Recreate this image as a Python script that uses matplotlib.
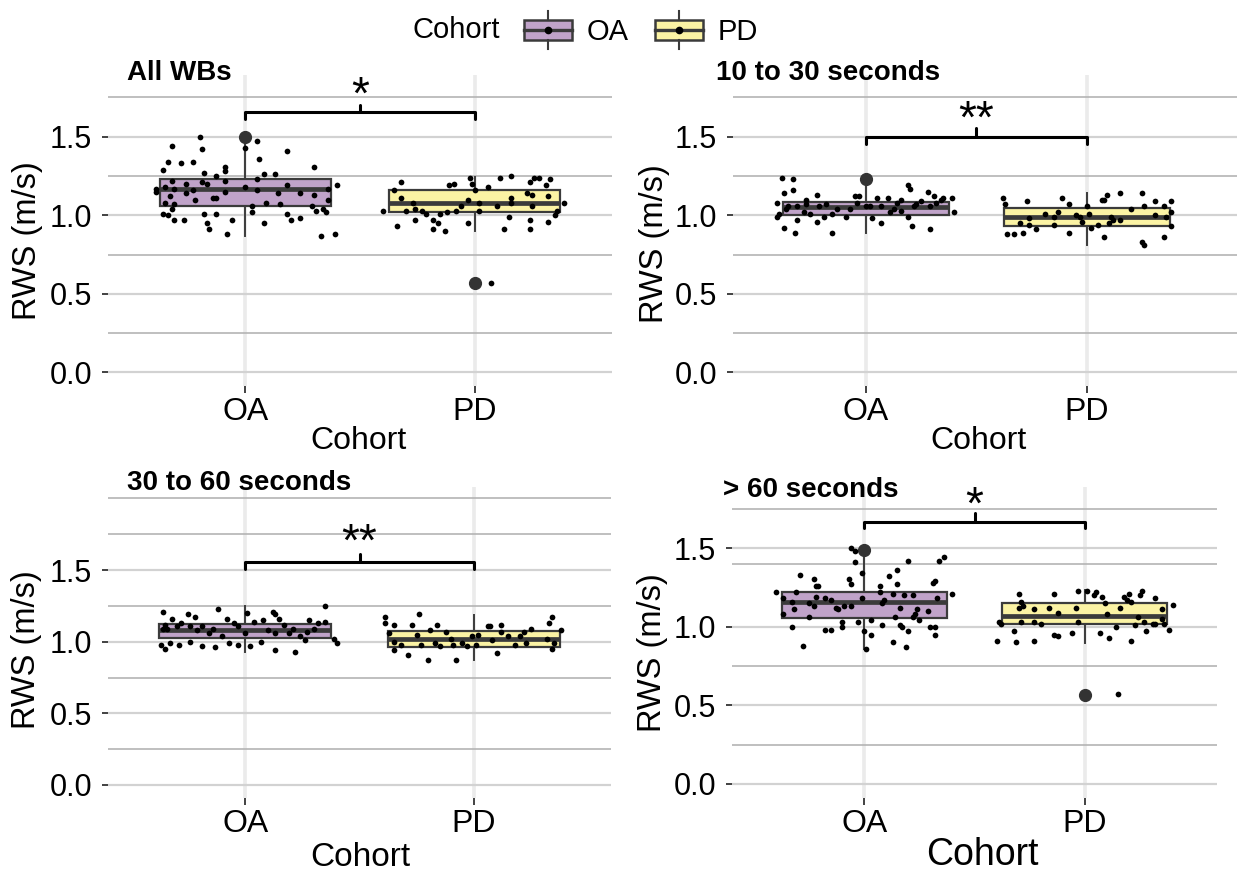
import matplotlib.pyplot as plt
import matplotlib.patches as mpatches
from matplotlib.lines import Line2D
from matplotlib.legend_handler import HandlerBase
from matplotlib.ticker import FormatStrFormatter

plt.rcParams['font.family'] = ['Liberation Sans', 'DejaVu Sans']

cohorts = ['OA', 'PD']
fills = {'OA': '#c0a3c9', 'PD': '#fbf3a4'}
edge = '#3b3b3b'

titles = ['All WBs', '10 to 30 seconds', '30 to 60 seconds', '> 60 seconds']
stars = ['*', '**', '**', '*']

# RWS per walking bout group; *_dx is the horizontal jitter of each point
all_oa = [1.50, 1.47, 1.44, 1.43, 1.42, 1.41, 1.36, 1.34, 1.34, 1.33,
          1.31, 1.31, 1.29, 1.28, 1.27, 1.26, 1.26, 1.25, 1.23, 1.22,
          1.21, 1.22, 1.20, 1.20, 1.19, 1.19, 1.18, 1.18, 1.17, 1.17,
          1.17, 1.16, 1.16, 1.15, 1.15, 1.14, 1.14, 1.14, 1.13, 1.12,
          1.11, 1.11, 1.10, 1.10, 1.08, 1.08, 1.07, 1.07, 1.06, 1.06,
          1.04, 1.04, 1.03, 1.02, 1.01, 1.00, 1.01, 1.01, 1.01, 1.02,
          0.97, 0.98, 0.97, 0.97, 0.97, 0.95, 0.95, 0.91, 0.88, 0.87,
          0.88]
all_oa_dx = [-0.20, 0.05, -0.32, 0.00, -0.19, 0.18, 0.06, -0.34, -0.23, -0.28,
             0.30, -0.09, -0.36, -0.09, -0.18, 0.08, 0.13, -0.13, 0.05, -0.09,
             -0.19, -0.32, -0.26, -0.17, 0.18, 0.40, 0.00, -0.35, -0.31, 0.36,
             -0.39, -0.23, 0.05, -0.09, -0.39, 0.14, -0.26, 0.24, 0.30, -0.33,
             -0.14, -0.13, -0.22, 0.36, 0.09, -0.35, -0.31, 0.15, 0.29, 0.03,
             0.34, -0.32, 0.31, 0.03, -0.36, -0.34, -0.18, -0.13, 0.18, 0.35,
             0.20, 0.24, -0.06, -0.27, -0.31, -0.17, 0.08, -0.16, -0.08, 0.33,
             0.39]
all_pd = [1.21, 1.16, 1.11, 1.03, 1.03, 1.08, 1.04, 1.03, 1.01, 0.93,
          0.97, 0.97, 0.95, 0.91, 0.90, 1.01, 1.02, 1.19, 1.20, 1.03,
          1.06, 0.95, 1.10, 1.24, 1.20, 1.16, 1.08, 1.03, 1.18, 1.06,
          1.24, 0.91, 0.99, 1.11, 1.25, 1.08, 0.57,
          1.21, 1.24, 1.24, 1.23, 1.19, 1.14, 1.13, 1.12, 1.06, 1.08,
          1.00, 1.03, 0.97, 0.96, 0.91]
all_pd_dx = [-0.32, -0.35, -0.32, -0.40, -0.30, -0.27, -0.26, -0.23, -0.21, -0.34,
             -0.26, -0.18, -0.16, -0.18, -0.13, -0.15, -0.12, -0.11, -0.09, -0.08,
             -0.06, -0.03, -0.03, -0.02, -0.01, 0.00, 0.02, 0.02, 0.06, 0.10,
             0.11, 0.13, 0.15, 0.16, 0.16, 0.16, 0.07,
             0.24, 0.26, 0.28, 0.33, 0.31, 0.23, 0.25, 0.32, 0.25, 0.39,
             0.35, 0.36, 0.24, 0.32, 0.24]

s10_oa = [1.24, 1.23, 1.14, 1.16, 1.08, 1.06, 1.06, 1.10, 1.13, 1.07,
          0.99, 1.04, 0.97, 0.92, 0.89, 1.02, 1.01, 0.96, 0.99, 0.89,
          1.04, 0.99, 1.12, 1.08, 1.06, 1.06, 1.11, 0.98, 0.95, 1.11,
          1.02, 1.08, 1.10, 1.19, 1.17, 0.99, 0.93, 1.07, 1.09, 1.15,
          0.91, 1.06, 1.12, 1.08, 1.11, 1.11, 1.02, 1.03, 1.04, 1.07,
          1.06, 1.06, 1.12, 1.04, 1.06, 1.10, 1.01, 1.01]
s10_oa_dx = [-0.38, -0.33, -0.37, -0.33, -0.40, -0.35, -0.31, -0.27, -0.22, -0.18,
             -0.40, -0.36, -0.31, -0.37, -0.32, -0.28, -0.25, -0.22, -0.19, -0.15,
             -0.13, -0.09, -0.05, -0.04, 0.00, 0.02, 0.05, 0.03, 0.07, 0.10,
             0.11, 0.14, 0.16, 0.19, 0.20, 0.19, 0.21, 0.23, 0.25, 0.28,
             0.29, 0.29, 0.31, 0.32, 0.35, 0.39, 0.40, 0.16, -0.07, -0.27,
             -0.21, 0.07, -0.03, 0.13, 0.22, 0.34, -0.39, -0.15]
s10_pd = [1.11, 1.07, 1.09, 0.88, 0.88, 0.89, 0.94, 0.91, 0.95, 0.98,
          1.01, 0.99, 1.02, 1.11, 1.07, 0.89, 1.00, 0.99, 0.96, 1.06,
          1.01, 0.92, 0.94, 1.10, 1.10, 0.86, 0.95, 0.97, 1.14, 0.97,
          1.04, 1.14, 1.06, 0.83, 0.81, 1.00, 1.09, 0.86, 1.06, 0.99,
          0.93, 1.02, 1.09, 0.94, 0.99, 1.13]
s10_pd_dx = [-0.38, -0.37, -0.27, -0.36, -0.33, -0.29, -0.26, -0.23, -0.30, -0.26,
             -0.19, -0.15, -0.13, -0.11, -0.08, -0.08, -0.05, -0.03, -0.02, 0.00,
             0.01, 0.02, 0.05, 0.07, 0.08, 0.08, 0.10, 0.12, 0.15, 0.15,
             0.20, 0.25, 0.26, 0.25, 0.26, 0.31, 0.31, 0.35, 0.35, 0.36,
             0.38, 0.38, 0.38, -0.15, 0.11, 0.09]

s30_oa = [1.21, 1.16, 1.12, 1.09, 1.11, 1.13, 1.19, 1.17, 1.11, 1.08,
          1.11, 1.06, 1.23, 1.16, 1.13, 1.11, 1.04, 0.99, 0.96, 0.97,
          1.00, 0.98, 0.99, 0.95, 0.98, 0.98, 1.06, 1.20, 0.97, 1.14,
          1.00, 1.15, 1.08, 1.21, 1.19, 1.16, 0.94, 1.06, 1.12, 1.06,
          0.93, 1.04, 1.01, 1.15, 1.07, 1.13, 1.14, 1.25, 1.02, 0.99,
          1.09, 1.09, 1.09, 1.09]
s30_oa_dx = [-0.36, -0.32, -0.35, -0.36, -0.30, -0.28, -0.25, -0.22, -0.24, -0.21,
             -0.19, -0.16, -0.12, -0.08, -0.05, -0.03, -0.10, -0.07, -0.13, -0.19,
             -0.24, -0.29, -0.33, -0.35, -0.37, -0.03, 0.00, 0.01, 0.02, 0.04,
             0.07, 0.08, 0.10, 0.12, 0.13, 0.15, 0.13, 0.13, 0.17, 0.19,
             0.22, 0.24, 0.26, 0.28, 0.27, 0.32, 0.35, 0.35, 0.39, 0.40,
             -0.34, -0.14, 0.21, 0.30]
s30_pd = [1.17, 1.13, 1.12, 1.06, 1.00, 0.94, 0.98, 0.91, 1.12, 1.19,
          1.05, 0.98, 0.87, 1.08, 1.12, 0.99, 0.97, 1.07, 0.87, 0.98,
          0.99, 0.97, 1.04, 1.05, 1.11, 1.11, 1.01, 0.92, 1.12, 1.07,
          1.04, 0.98, 1.04, 1.07, 1.09, 0.99, 1.02, 1.13, 1.17, 0.99,
          0.95, 1.08, 0.98, 1.02]
s30_pd_dx = [-0.39, -0.39, -0.35, -0.37, -0.35, -0.35, -0.32, -0.29, -0.27, -0.24,
             -0.25, -0.23, -0.20, -0.19, -0.16, -0.17, -0.15, -0.12, -0.08, -0.09,
             -0.05, -0.03, -0.01, 0.02, 0.06, 0.07, 0.08, 0.10, 0.12, 0.12,
             0.15, 0.18, 0.20, 0.22, 0.25, 0.23, 0.32, 0.33, 0.34, 0.35,
             0.34, 0.38, 0.01, -0.10]

s60_oa = [1.22, 1.00, 1.18, 1.08, 1.16, 1.33, 1.22, 1.11, 0.88, 1.06,
          1.15, 1.30, 1.19, 1.26, 1.13, 1.26, 1.18, 0.98, 0.98, 1.17,
          1.12, 1.11, 1.03, 1.00, 1.13, 1.13, 1.30, 1.27, 1.50, 1.48,
          1.41, 1.03, 1.18, 1.34, 0.97, 0.86, 0.95, 1.04, 1.26, 1.22,
          1.01, 1.15, 1.17, 1.32, 0.90, 1.21, 1.06, 1.27, 1.36, 1.01,
          1.00, 1.20, 0.87, 1.42, 0.97, 1.06, 1.20, 1.08, 1.11, 1.04,
          1.10, 1.00, 1.28, 1.29, 1.00, 0.95, 1.18, 1.42, 1.44, 1.21,
          1.12]
s60_oa_dx = [-0.40, -0.33, -0.37, -0.37, -0.33, -0.29, -0.31, -0.32, -0.28, -0.25,
             -0.25, -0.23, -0.22, -0.22, -0.23, -0.21, -0.18, -0.18, -0.15, -0.15,
             -0.13, -0.12, -0.10, -0.10, -0.09, -0.06, -0.07, -0.06, -0.06, -0.04,
             -0.04, -0.03, -0.01, -0.01, 0.00, 0.01, 0.03, 0.03, 0.07, 0.07,
             0.08, 0.08, 0.09, 0.11, 0.13, 0.13, 0.14, 0.15, 0.15, 0.16,
             0.17, 0.18, 0.19, 0.20, 0.20, 0.22, 0.22, 0.23, 0.24, 0.25,
             0.29, 0.30, 0.31, 0.32, 0.32, 0.32, 0.33, 0.34, 0.36, 0.40,
             0.16]
s60_pd = [0.91, 1.03, 1.02, 0.97, 0.90, 1.21, 1.16, 1.12, 1.13, 1.03,
          1.03, 0.91, 1.11, 1.02, 1.12, 1.21, 0.95, 0.94, 1.09, 0.96,
          1.12, 1.23, 1.03, 1.23, 1.20, 1.22, 0.96, 1.19, 1.08, 1.15,
          0.93, 1.00, 1.12, 1.19, 1.17, 1.21, 1.16, 0.91, 1.01, 1.06,
          1.20, 1.23, 1.03, 0.97, 1.02, 1.18, 1.02, 1.05, 1.11, 1.02,
          0.98, 1.14, 0.57]
s60_pd_dx = [-0.40, -0.39, -0.38, -0.32, -0.31, -0.30, -0.29, -0.30, -0.28, -0.29,
             -0.23, -0.23, -0.23, -0.20, -0.16, -0.14, -0.14, -0.12, -0.12, -0.06,
             -0.04, -0.03, -0.03, 0.01, 0.04, 0.05, 0.07, 0.08, 0.10, 0.09,
             0.11, 0.14, 0.16, 0.18, 0.19, 0.20, 0.21, 0.21, 0.23, 0.24,
             0.25, 0.26, 0.27, 0.28, 0.31, 0.32, 0.32, 0.35, 0.35, 0.36,
             0.38, 0.40, 0.15]

# box statistics: q1, median, q3, lower whisker, upper whisker
all_oa_box, all_oa_out = [1.059, 1.165, 1.229, 0.87, 1.47], [1.50]
all_pd_box, all_pd_out = [1.019, 1.076, 1.161, 0.90, 1.246], [0.57]
s10_oa_box, s10_oa_out = [1.002, 1.055, 1.087, 0.89, 1.19], [1.23]
s10_pd_box, s10_pd_out = [0.934, 0.991, 1.048, 0.81, 1.14], []
s30_oa_box, s30_oa_out = [1.024, 1.082, 1.123, 0.93, 1.25], []
s30_pd_box, s30_pd_out = [0.965, 1.017, 1.077, 0.872, 1.186], []
s60_oa_box, s60_oa_out = [1.057, 1.159, 1.222, 0.86, 1.44], [1.49]
s60_pd_box, s60_pd_out = [1.017, 1.070, 1.153, 0.894, 1.233], [0.566]

groups = [
    [(all_oa, all_oa_dx, all_oa_box, all_oa_out), (all_pd, all_pd_dx, all_pd_box, all_pd_out)],
    [(s10_oa, s10_oa_dx, s10_oa_box, s10_oa_out), (s10_pd, s10_pd_dx, s10_pd_box, s10_pd_out)],
    [(s30_oa, s30_oa_dx, s30_oa_box, s30_oa_out), (s30_pd, s30_pd_dx, s30_pd_box, s30_pd_out)],
    [(s60_oa, s60_oa_dx, s60_oa_box, s60_oa_out), (s60_pd, s60_pd_dx, s60_pd_box, s60_pd_out)],
]

W, H = 1243, 875
fig = plt.figure(figsize=(W / 100, H / 100), dpi=100)

# panel frames in pixels (left, top, right, bottom) and per-panel scale settings
layout = [
    dict(rect=(108, 75, 612, 386), xlim=(-0.6, 1.6), ylim=(-0.086, 1.893),
         minor=[0.25, 0.75, 1.25, 1.75], title=(127, 73),
         bracket=(1.61, 1.659, 1.70), star=1.755, ylab=(28, 241), xlab=(358, 441, 23)),
    dict(rect=(733, 75, 1237, 386), xlim=(-0.6, 1.68), ylim=(-0.086, 1.893),
         minor=[0.25, 0.75, 1.25, 1.75], title=(716, 73),
         bracket=(1.454, 1.496, 1.555), star=1.60, ylab=(655, 244), xlab=(978, 441, 23)),
    dict(rect=(108, 487, 611, 798), xlim=(-0.6, 1.6), ylim=(-0.091, 2.08),
         minor=[0.25, 0.75, 1.25, 1.75, 2.0], title=(127, 483),
         bracket=(1.505, 1.558, 1.612), star=1.685, ylab=(27, 650), xlab=(360, 857, 24)),
    dict(rect=(732, 487, 1217, 798), xlim=(-0.6, 1.6), ylim=(-0.089, 1.888),
         minor=[0.25, 0.75, 1.4, 1.75], title=(723, 490),
         bracket=(1.625, 1.667, 1.72), star=1.76, ylab=(653, 653), xlab=(982, 855, 27)),
]

for k, spec in enumerate(layout):
    l, t, r, b = spec['rect']
    ax = fig.add_axes([l / W, 1 - b / H, (r - l) / W, (b - t) / H])
    ax.set_xlim(*spec['xlim'])
    ax.set_ylim(*spec['ylim'])
    ax.set_axisbelow(True)
    for s in ax.spines.values():
        s.set_visible(False)

    stats = []
    for vals, dx, box, out in groups[k]:
        q1, med, q3, lo, hi = box
        stats.append(dict(q1=q1, med=med, q3=q3, whislo=lo, whishi=hi, fliers=out))
    bp = ax.bxp(stats, positions=[0, 1], widths=0.75, patch_artist=True, showcaps=False,
                boxprops=dict(edgecolor=edge, linewidth=1.6),
                medianprops=dict(color=edge, linewidth=3.4),
                whiskerprops=dict(color=edge, linewidth=1.4),
                flierprops=dict(marker='o', markerfacecolor='#333333',
                                markeredgecolor='#333333', markersize=8.5))
    for patch, c in zip(bp['boxes'], cohorts):
        patch.set_facecolor(fills[c])

    for i, (vals, dx, box, out) in enumerate(groups[k]):
        ax.scatter([i + d for d in dx], vals, s=17, color='black', linewidths=0, zorder=4)

    # significance bracket between the two cohorts
    y0, y1, y2 = spec['bracket']
    ax.plot([0, 0, 1, 1], [y0, y1, y1, y0], color='black', lw=2.2,
            solid_joinstyle='round', solid_capstyle='round', zorder=5)
    ax.plot([0.5, 0.5], [y1, y2], color='black', lw=2.2, solid_capstyle='round', zorder=5)
    ax.text(0.5, spec['star'], stars[k], ha='center', va='center', fontsize=33)

    ax.set_xticks([0, 1], cohorts)
    ax.set_yticks([0, 0.5, 1.0, 1.5])
    ax.set_yticks(spec['minor'], minor=True)
    ax.yaxis.set_major_formatter(FormatStrFormatter('%.1f'))
    ax.grid(axis='y', which='major', color='#d2d2d2', lw=1.6)
    ax.grid(axis='y', which='minor', color='#b4b4b4', lw=1.2)
    ax.grid(axis='x', which='major', color='#ebebeb', lw=2.6)
    ax.tick_params(axis='y', which='minor', length=0)
    ax.tick_params(axis='y', which='major', length=4.5, width=1.3, color='#333333',
                   labelsize=22, pad=7)
    ax.tick_params(axis='x', which='major', length=5, width=1.3, color='#333333',
                   labelsize=23, pad=3)

    ax.set_ylabel('RWS (m/s)', fontsize=23.5, va='center')
    ax.yaxis.set_label_coords((spec['ylab'][0] - l) / (r - l), (b - spec['ylab'][1]) / (b - t))
    xx, xy, xs = spec['xlab']
    ax.set_xlabel('Cohort', fontsize=xs, va='center')
    ax.xaxis.set_label_coords((xx - l) / (r - l), (b - xy) / (b - t))

    tx, ty = spec['title']
    fig.text(tx / W, 1 - ty / H, titles[k], fontsize=20, fontweight='bold', va='center')


class BoxKey(HandlerBase):
    """Legend key drawn as a small boxplot with a point on the median."""

    def create_artists(self, legend, orig_handle, xdescent, ydescent, width, height,
                       fontsize, trans):
        x0, y0 = -xdescent, -ydescent
        xm = x0 + width / 2
        box = mpatches.Rectangle((x0, y0 + 0.17 * height), width, 0.66 * height,
                                 facecolor=orig_handle.get_facecolor(), edgecolor=edge,
                                 lw=1.8, transform=trans)
        lo = Line2D([xm, xm], [y0 - 0.12 * height, y0 + 0.17 * height], color=edge, lw=1.5,
                    transform=trans)
        hi = Line2D([xm, xm], [y0 + 0.83 * height, y0 + 1.12 * height], color=edge, lw=1.5,
                    transform=trans)
        med = Line2D([x0, x0 + width], [y0 + 0.5 * height] * 2, color=edge, lw=2.4,
                     transform=trans)
        dot = Line2D([xm], [y0 + 0.5 * height], marker='o', ms=4.5, color='black',
                     transform=trans)
        return [box, lo, hi, med, dot]


handles = [mpatches.Patch(facecolor=fills[c], label=c) for c in cohorts]
fig.text(413 / W, 1 - 30 / H, 'Cohort', fontsize=21, va='center')
fig.legend(handles=handles, loc='center left', bbox_to_anchor=(524 / W, 1 - 30 / H),
           ncol=2, frameon=False, fontsize=21, handlelength=1.65, handleheight=1.25,
           handletextpad=0.5, columnspacing=0.9, borderpad=0, borderaxespad=0,
           handler_map={mpatches.Patch: BoxKey()})

fig.savefig('out.png', dpi=100)
